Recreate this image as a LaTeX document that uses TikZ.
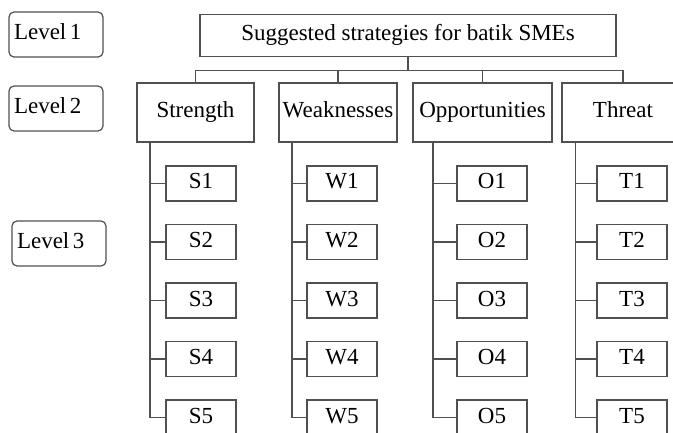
\documentclass[tikz,border=0pt]{standalone}
\usepackage{fontspec}
\setmainfont{Liberation Serif}
\usepackage{tikz}
\usetikzlibrary{positioning}

\definecolor{linegray}{HTML}{505050}

\tikzset{
    every node/.style={outer sep=0pt, text height=16pt, text depth=5pt},
    lvlbox/.style={draw=linegray, rounded corners=5pt, minimum width=94pt, minimum height=45pt,
        text width=84pt, inner xsep=5pt, align=left, execute at begin node={\spaceskip=3.5pt\relax}},
    catbox/.style={draw=linegray, minimum height=59pt, inner sep=2pt},
    leafbox/.style={draw=linegray, minimum width=70pt, minimum height=35pt},
    link/.style={draw=linegray}
}

\begin{document}
\begin{tikzpicture}[x=1pt, y=1pt, line width=1.2pt, font=\fontsize{23}{27}\selectfont]
        \useasboundingbox (0,0) rectangle (673,432);
        % levels
        \node[lvlbox] (lvl1) at (56,397.5) {Level 1};
        \node[lvlbox, below=29pt of lvl1] (lvl2) {Level 2};
        \node[lvlbox] (lvl3) at (59,188.5) {Level 3};
        % root and categories
        \node[draw=linegray, minimum width=416pt, minimum height=42pt] (main) at (408,396.5) {Suggested strategies for batik SMEs};
        \node[catbox, minimum width=117pt] (str) at (195.5,319.5) {Strength};
        \node[catbox, minimum width=118pt, right=25pt of str] (wea) {Weaknesses};
        \node[catbox, minimum width=139pt, right=16pt of wea] (opp) {Opportunities};
        \node[catbox, minimum width=122pt, right=10pt of opp] (thr) {Threat};
        \draw[link] (main.south) -- ++(0,-14) coordinate (bus);
        \draw[link] (str.north) |- (bus) -| (thr.north);
        \draw[link] (wea.north) -- (wea.north |- bus);
        \draw[link] (opp.north) -- (opp.north |- bus);
        % items under each category
        \foreach \col/\lt/\sp/\bx in {str/S/13pt/29pt, wea/W/13pt/28pt, opp/O/20pt/44pt, thr/T/13.5pt/35pt} {
            \node[leafbox, below right=24pt and \bx of \col.south west] (\col1) {\lt1};
            \foreach \i [count=\j from 2] in {1,...,4}
                \node[leafbox, below=23.5pt of \col\i] (\col\j) {\lt\j};
            \coordinate (\col sp) at ([xshift=\sp]\col.south west);
            \draw[link] (\col sp) |- (\col5.west);
            \foreach \i in {1,...,4}
                \draw[link] (\col\i.west) -- (\col\i.west -| \col sp);
        }
    \end{tikzpicture}
\end{document}
